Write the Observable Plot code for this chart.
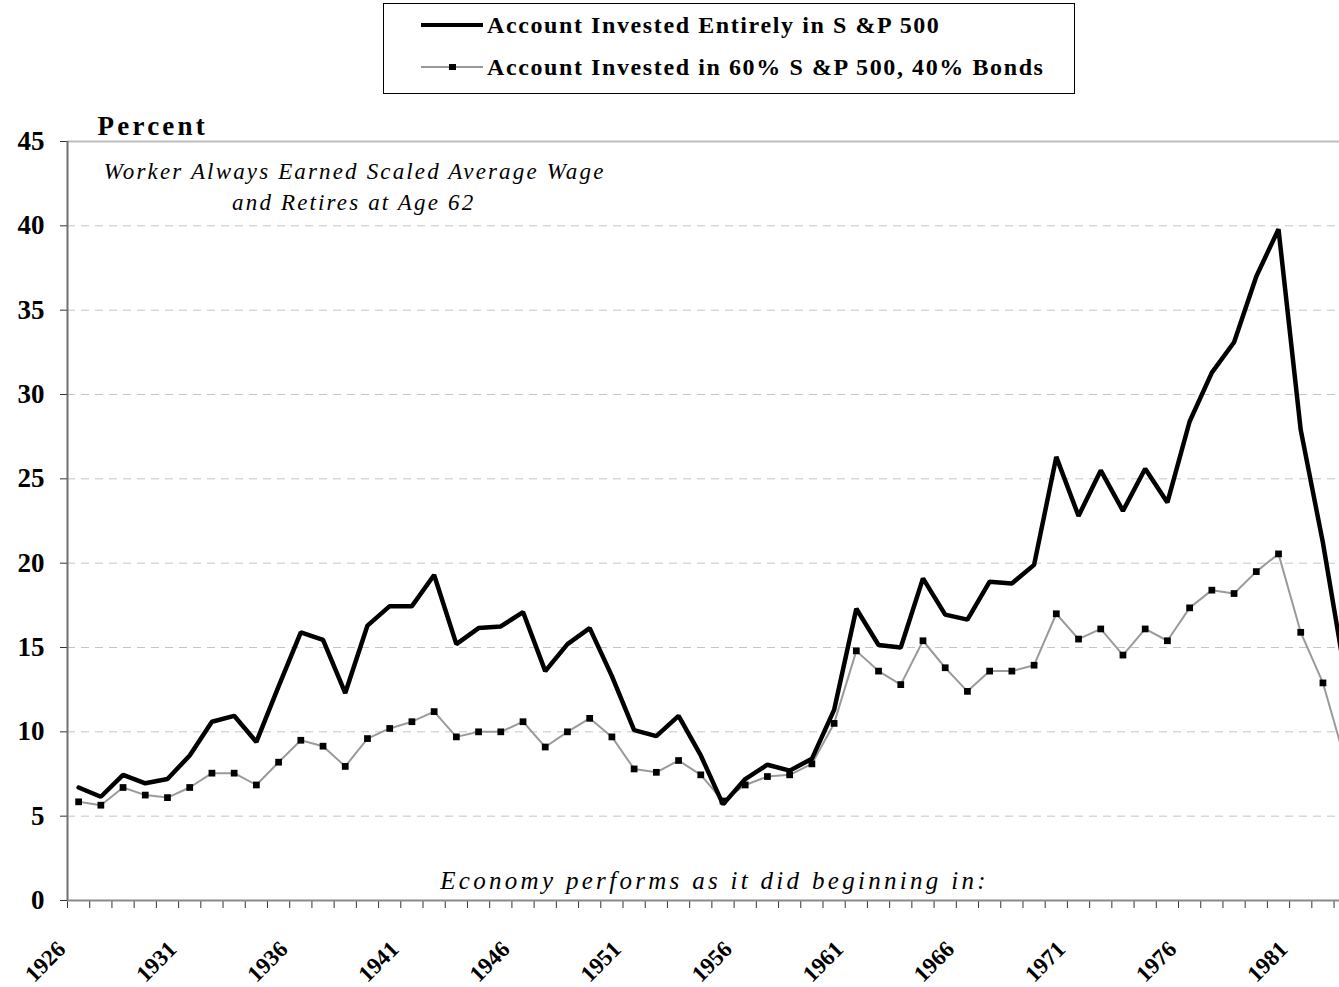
<!DOCTYPE html>
<html><head><meta charset="utf-8">
<script src="https://cdn.jsdelivr.net/npm/d3@7"></script>
<script src="https://cdn.jsdelivr.net/npm/@observablehq/plot@0.6"></script>
<style>
html,body{margin:0;padding:0;background:#fff;overflow:hidden;width:1339px;height:987px;}
#wrap{position:relative;width:1339px;height:987px;overflow:hidden;}
#legend{position:absolute;left:383px;top:3px;width:690px;height:89px;border:1px solid #000;
  font-family:"Liberation Serif","Times New Roman",serif;font-weight:bold;font-size:24px;letter-spacing:1.6px;color:#000;}
.row{position:absolute;left:36px;height:30px;display:flex;align-items:center;white-space:nowrap;}
.row svg{margin-right:3px;}
#chart{position:absolute;left:0;top:100px;width:1400px;}
#chart svg{max-width:none !important;}
</style></head><body>
<div id="wrap"><div id="legend"></div><div id="chart"></div></div>
<script>
// ---- data ----
const years = [1926,1927,1928,1929,1930,1931,1932,1933,1934,1935,1936,1937,1938,1939,1940,1941,1942,1943,1944,1945,
  1946,1947,1948,1949,1950,1951,1952,1953,1954,1955,1956,1957,1958,1959,1960,1961,1962,1963,1964,1965,
  1966,1967,1968,1969,1970,1971,1972,1973,1974,1975,1976,1977,1978,1979,1980,1981,1982,1983];
const sp500 = [6.7,6.15,7.45,6.95,7.2,8.6,10.6,10.95,9.4,12.7,15.9,15.45,12.3,16.3,17.45,17.45,19.3,15.2,16.15,16.25,
  17.1,13.6,15.2,16.15,13.3,10.1,9.75,10.95,8.6,5.7,7.2,8.05,7.7,8.4,11.3,17.3,15.15,15.0,19.1,16.95,
  16.65,18.9,18.8,19.9,26.3,22.8,25.5,23.1,25.6,23.6,28.4,31.3,33.1,37.0,39.8,27.9,21.2,13.4];
const mix6040 = [5.85,5.65,6.7,6.25,6.1,6.7,7.55,7.55,6.85,8.2,9.5,9.15,7.95,9.6,10.2,10.6,11.2,9.7,10.0,10.0,
  10.6,9.1,10.0,10.8,9.7,7.8,7.6,8.3,7.45,5.9,6.85,7.35,7.45,8.1,10.5,14.8,13.6,12.8,15.4,13.8,
  12.4,13.6,13.6,13.95,17.0,15.5,16.1,14.55,16.1,15.4,17.35,18.4,18.2,19.5,20.55,15.9,12.9,8.3];
const xTickLabels = [1926,1931,1936,1941,1946,1951,1956,1961,1966,1971,1976,1981];
const yTicks = [0,5,10,15,20,25,30,35,40,45];
const seriesNames = ["Account Invested Entirely in S &P 500", "Account Invested in 60% S &P 500, 40% Bonds"];
const yLabel = "Percent";
const note1 = "Worker Always Earned Scaled Average Wage";
const note2 = "and Retires at Age 62";
const xNote = "Economy performs as it did beginning in:";

const rows = years.map((y, i) => ({year: y, sp: sp500[i], mix: mix6040[i]}));
const boundaries = years.map(y => y - 0.5).concat([years[years.length-1] + 0.5]);
const gridVals = yTicks.filter(v => v > 0 && v < 45);

// ---- legend ----
const legend = document.getElementById("legend");
legend.innerHTML = `
 <div class="row" style="top:6px"><svg width="64" height="12"><line x1="1" x2="63" y1="6" y2="6" stroke="#000" stroke-width="4"/></svg><span>${seriesNames[0]}</span></div>
 <div class="row" style="top:48px"><svg width="64" height="12"><line x1="1" x2="63" y1="6" y2="6" stroke="#999" stroke-width="2"/><rect x="29" y="3" width="7" height="6" fill="#000"/></svg><span>${seriesNames[1]}</span></div>`;

// ---- chart ----
const serif = "'Liberation Serif','Times New Roman',serif";
const chart = Plot.plot({
  width: 1378, height: 887,
  marginLeft: 67, marginRight: 0, marginTop: 41, marginBottom: 87,
  x: {domain: [1925.5, 1984.5], axis: null},
  y: {domain: [0, 45], axis: null},
  style: {fontFamily: serif, background: "white", overflow: "visible", color: "#000", maxWidth: "none"},
  marks: [
    Plot.ruleY(gridVals, {stroke: "#c4c4c4", strokeDasharray: "8,6", strokeWidth: 1}),
    Plot.ruleY([45], {stroke: "#bdbdbd", strokeWidth: 2}),
    Plot.axisY({ticks: yTicks, tickSize: 7, tickPadding: 16, fontSize: 27, fontWeight: "bold", stroke: "#333", fill: "#000", label: null}),
    Plot.axisX({ticks: boundaries, tickSize: 8, tickFormat: () => "", stroke: "#333", label: null}),
    Plot.ruleY([0], {stroke: "#8a8a8a", strokeWidth: 2}),
    Plot.ruleX([1925.5], {y1: 0, y2: 45, stroke: "#707070", strokeWidth: 2}),
    Plot.lineY(rows, {x: "year", y: "mix", stroke: "#9a9a9a", strokeWidth: 2}),
    Plot.lineY(rows, {x: "year", y: "sp", stroke: "#000", strokeWidth: 4.5, strokeLinejoin: "miter"}),
    Plot.dot(rows, {x: "year", y: "mix", symbol: "square", r: 3.8, fill: "#000", stroke: "none"}),
    Plot.text(xTickLabels, {x: d => d, text: d => String(d), frameAnchor: "bottom", dy: 45, dx: -17, rotate: -45, textAnchor: "end", lineAnchor: "middle", fontSize: 23, fontWeight: "bold", fill: "#000"}),
    Plot.text([yLabel], {x: 1926.855, y: 45.89, textAnchor: "start", lineAnchor: "middle", fontSize: 27, fontWeight: "bold", fill: "#000"}),
    Plot.text([note1], {x: 1938.42, y: 43.22, textAnchor: "middle", lineAnchor: "middle", fontSize: 23, fontStyle: "italic", fill: "#000"}),
    Plot.text([note2], {x: 1938.38, y: 41.38, textAnchor: "middle", lineAnchor: "middle", fontSize: 23, fontStyle: "italic", fill: "#000"}),
    Plot.text([xNote], {x: 1954.62, y: 1.13, textAnchor: "middle", lineAnchor: "middle", fontSize: 25, fontStyle: "italic", fill: "#000"})
  ]
});
document.getElementById("chart").appendChild(chart);
const spacing = {[yLabel]: "3.2px", [note1]: "2.15px", [note2]: "2.15px", [xNote]: "3.3px"};
d3.select(chart).selectAll("text").each(function() {
  const t = this.textContent;
  if (spacing[t]) d3.select(this).style("letter-spacing", spacing[t]);
});
</script>
</body></html>
